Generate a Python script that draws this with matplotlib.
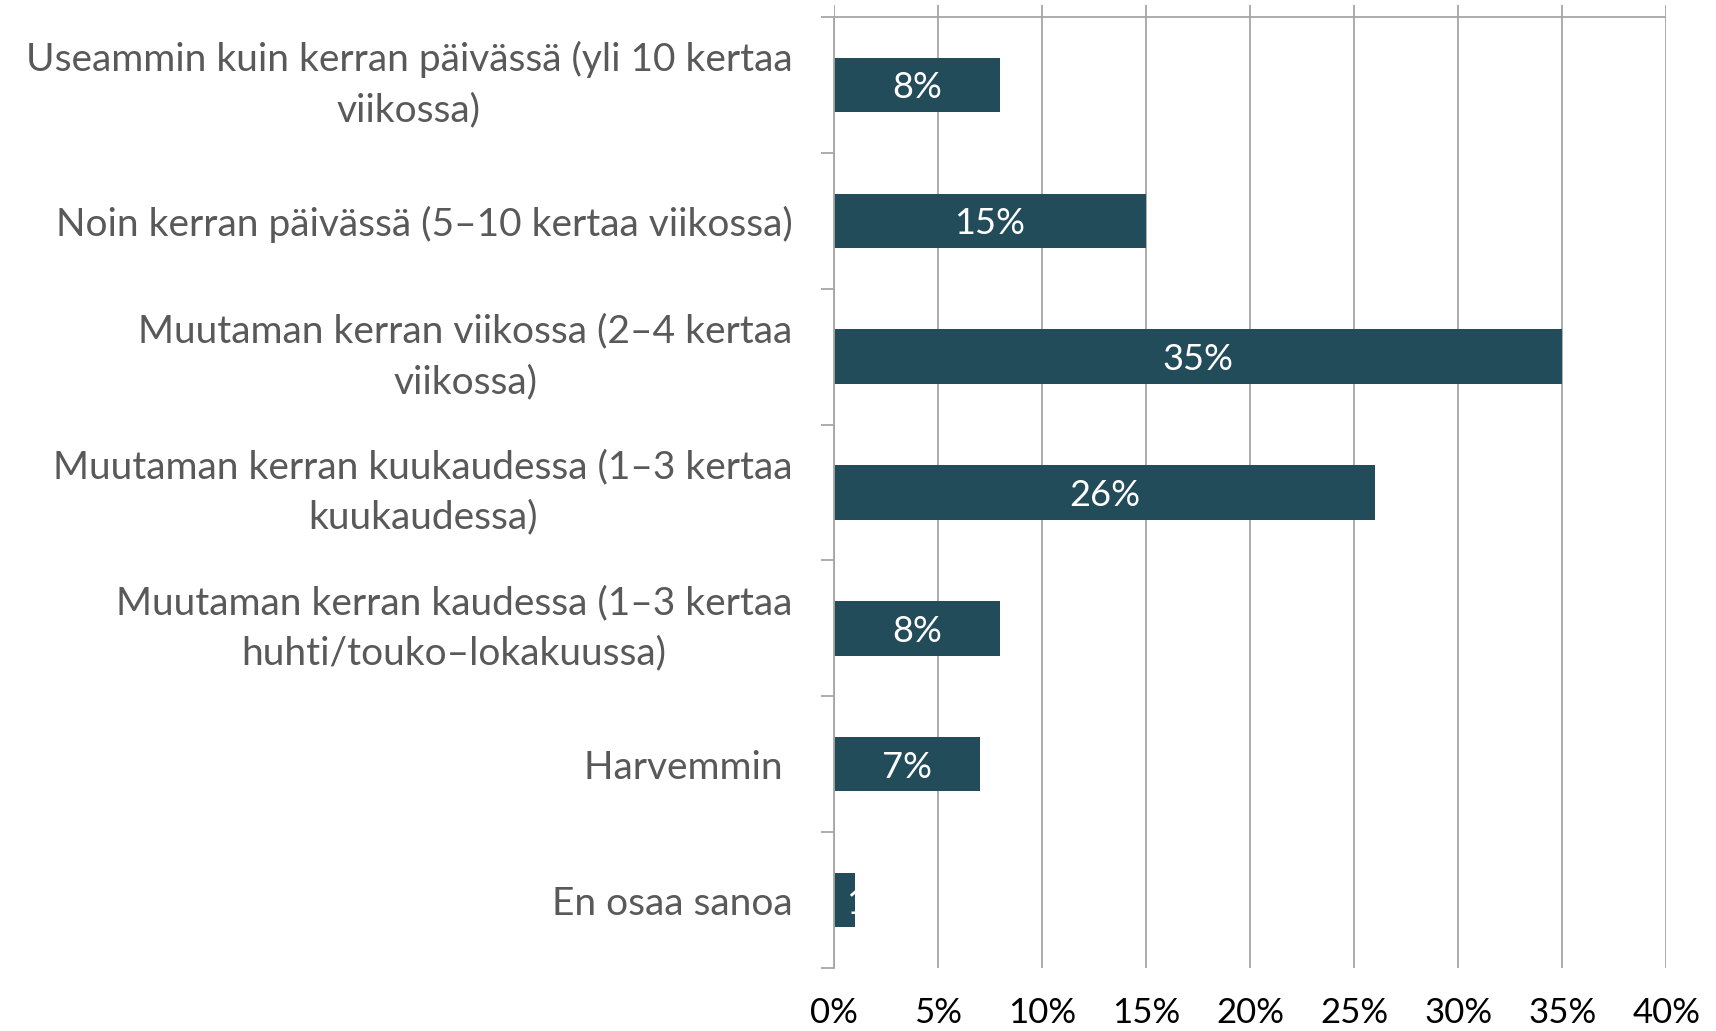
import numpy as np
import matplotlib.pyplot as plt

# data
categories = [
    "Useammin kuin kerran päivässä (yli 10 kertaa\nviikossa)",
    "Noin kerran päivässä (5–10 kertaa viikossa)",
    "Muutaman kerran viikossa (2–4 kertaa\nviikossa)",
    "Muutaman kerran kuukaudessa (1–3 kertaa\nkuukaudessa)",
    "Muutaman kerran kaudessa (1–3 kertaa\nhuhti/touko–lokakuussa)",
    "Harvemmin ",
    "En osaa sanoa",
]
values = [8, 15, 35, 26, 8, 7, 1]
xticks = [0, 5, 10, 15, 20, 25, 30, 35, 40]

bar_color = "#234C5A"
grid_color = "#A6A6A6"
text_gray = "#595959"

plt.rcParams['font.family'] = ['Lato', 'DejaVu Sans']

fig = plt.figure(figsize=(17.16, 10.31), dpi=100)
ax = fig.add_axes([0.486, 0.0611, 0.485, 0.934])

y = np.arange(len(categories))
bars = ax.barh(y, values, height=0.4, color=bar_color, zorder=3)

# bar labels
for rect, v in zip(bars, values):
    cy = rect.get_y() + rect.get_height() / 2
    if v >= 3:
        ax.text(v / 2, cy, f"{v}%", ha="center", va="center_baseline", color="white", fontsize=26, zorder=4)
    else:
        ax.annotate(f"{v}%", (v, cy), xytext=(-6, 0), textcoords="offset points",
                    ha="left", va="center_baseline", color="white", fontsize=26, zorder=4)

ax.set_xlim(0, 40)
ax.set_ylim(len(categories) - 0.5, -0.588)

ax.set_xticks(xticks)
ax.set_xticklabels([f"{t}%" for t in xticks])
ax.tick_params(axis="x", length=0, pad=21, labelsize=25, labelcolor="black")
ax.xaxis.grid(True, color=grid_color, linewidth=1.3, zorder=0)

ax.set_yticks(y)
ax.set_yticklabels(categories)
ax.set_yticks(np.arange(len(categories) + 1) - 0.5, minor=True)
ax.tick_params(axis="y", which="major", length=0, pad=30, labelsize=28, labelcolor=text_gray)
ax.tick_params(axis="y", which="minor", length=9.5, width=1.3, color=grid_color, direction="out")
for lab in ax.get_yticklabels():
    lab.set_multialignment("center")
    lab.set_linespacing(1.5)
    if "\n" in lab.get_text():
        lab.set_verticalalignment("center")

ax.axhline(-0.5, color=grid_color, linewidth=1.3, zorder=1)

for s in ["top", "right", "bottom"]:
    ax.spines[s].set_visible(False)
ax.spines["left"].set_color(grid_color)
ax.spines["left"].set_linewidth(1.3)
ax.spines["left"].set_bounds(-0.5, len(categories) - 0.5)
ax.spines["left"].set_zorder(5)

fig.savefig("out.png", dpi=100)
